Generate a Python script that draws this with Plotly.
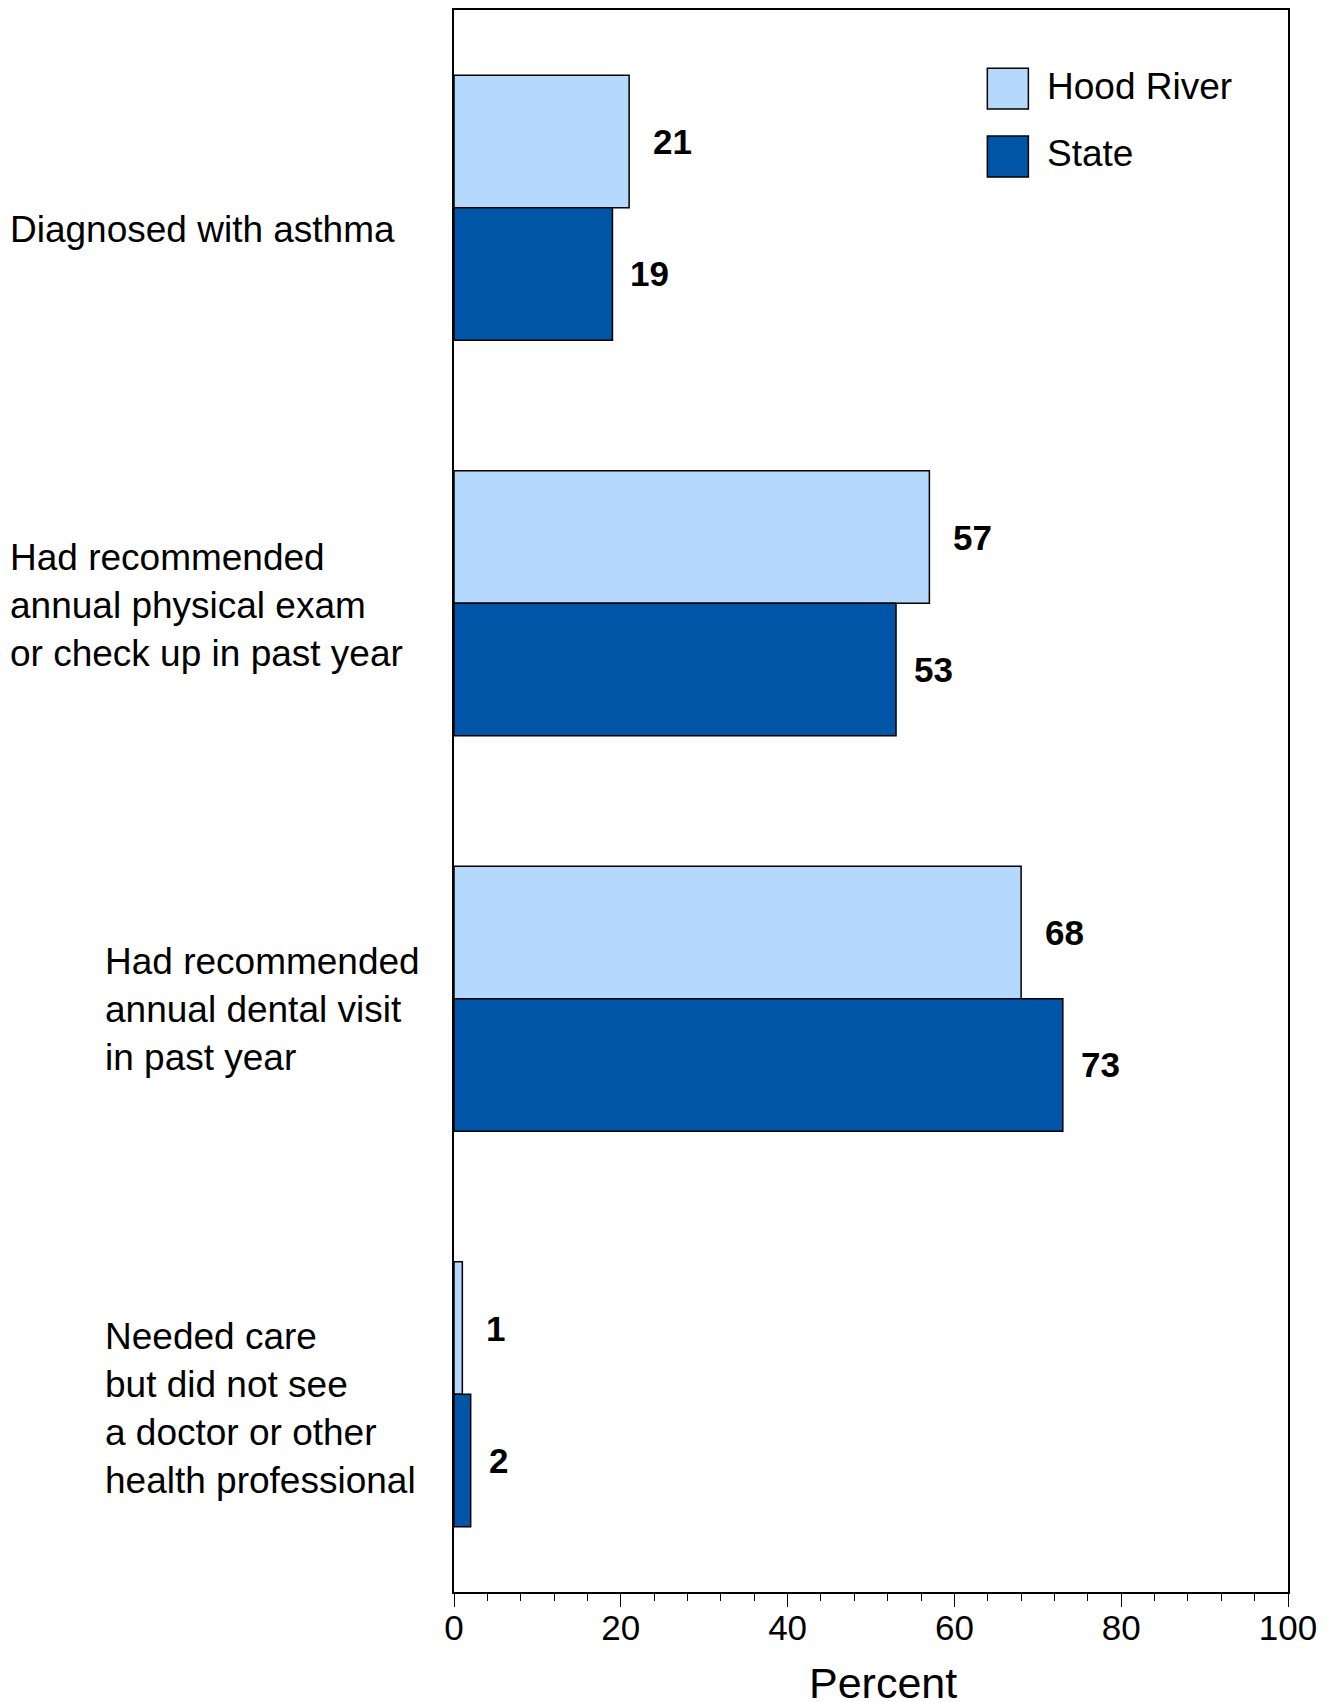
import plotly.graph_objects as go

categories = [
    "Diagnosed with asthma",
    "Had recommended annual physical exam or check up in past year",
    "Had recommended annual dental visit in past year",
    "Needed care but did not see a doctor or other health professional",
]
category_labels = [
    "Diagnosed with asthma",
    "Had recommended<br>annual physical exam<br>or check up in past year",
    "Had recommended<br>annual dental visit<br>in past year",
    "Needed care<br>but did not see<br>a doctor or other<br>health professional",
]
series_names = ["Hood River", "State"]
hood_river = [21, 57, 68, 1]
state = [19, 53, 73, 2]
x_ticks = [0, 20, 40, 60, 80, 100]
x_title = "Percent"

LIGHT = "#B5D9FC"
DARK = "#0055A7"
FONT = "Liberation Sans, Arial, sans-serif"

fig = go.Figure()
fig.add_trace(go.Bar(y=categories, x=hood_river, orientation="h", name=series_names[0],
                     marker=dict(color=LIGHT, line=dict(color="black", width=1.5))))
fig.add_trace(go.Bar(y=categories, x=state, orientation="h", name=series_names[1],
                     marker=dict(color=DARK, line=dict(color="black", width=1.5))))

annotations = []
# value labels
for vals, ys, xs in [(hood_river, 66, 22), (state, -66, 16)]:
    for c, v in zip(categories, vals):
        annotations.append(dict(x=v, y=c, xref="x", yref="y", text=f"<b>{v}</b>",
                                showarrow=False, xanchor="left", yanchor="middle",
                                xshift=xs, yshift=ys,
                                font=dict(family=FONT, size=35, color="black")))
# category labels
label_x = [-0.5351, -0.5351, -0.4205, -0.4205]
label_shift = [-22, -2, -11, -14]
for c, lab, lx, sh in zip(categories, category_labels, label_x, label_shift):
    annotations.append(dict(x=lx, y=c, xref="paper", yref="y", text=lab, showarrow=False,
                            xanchor="left", yanchor="middle", align="left", yshift=sh,
                            font=dict(family=FONT, size=37, color="black")))
# legend text
for name, ly in zip(series_names, [0.9519, 0.9096]):
    annotations.append(dict(x=0.7085, y=ly, xref="paper", yref="paper", text=name,
                            showarrow=False, xanchor="left", yanchor="middle",
                            font=dict(family=FONT, size=37, color="black")))
# x axis title
annotations.append(dict(x=0.5142, y=-0.0573, xref="paper", yref="paper", text=x_title,
                        showarrow=False, xanchor="center", yanchor="middle",
                        font=dict(family=FONT, size=43, color="black")))

shapes = [
    dict(type="rect", xref="paper", yref="paper", x0=0.6395, x1=0.6887, y0=0.9374, y1=0.9632,
         fillcolor=LIGHT, line=dict(color="black", width=1.5)),
    dict(type="rect", xref="paper", yref="paper", x0=0.6395, x1=0.6887, y0=0.8945, y1=0.9204,
         fillcolor=DARK, line=dict(color="black", width=1.5)),
]

fig.update_layout(
    width=1324, height=1694,
    margin=dict(l=446, r=44, t=0, b=110, pad=0),
    barmode="group", bargap=0.33, bargroupgap=0,
    plot_bgcolor="white", paper_bgcolor="white",
    showlegend=False,
    annotations=annotations, shapes=shapes,
    font=dict(family=FONT, color="black"),
)
fig.update_xaxes(range=[0, 100], tickvals=x_ticks, ticks="outside", ticklen=13, tickwidth=1,
                 tickcolor="black", showline=True, linecolor="black", linewidth=2, mirror=True,
                 showgrid=False, zeroline=False, tickfont=dict(size=35, family=FONT),
                 ticklabelstandoff=-9,
                 minor=dict(dtick=4, ticks="outside", ticklen=7, tickcolor="black", tickwidth=1))
fig.update_yaxes(autorange="reversed", showticklabels=False, showline=True, linecolor="black",
                 linewidth=1.5, mirror=True, showgrid=False, ticks="")

fig.write_html("out.html")
